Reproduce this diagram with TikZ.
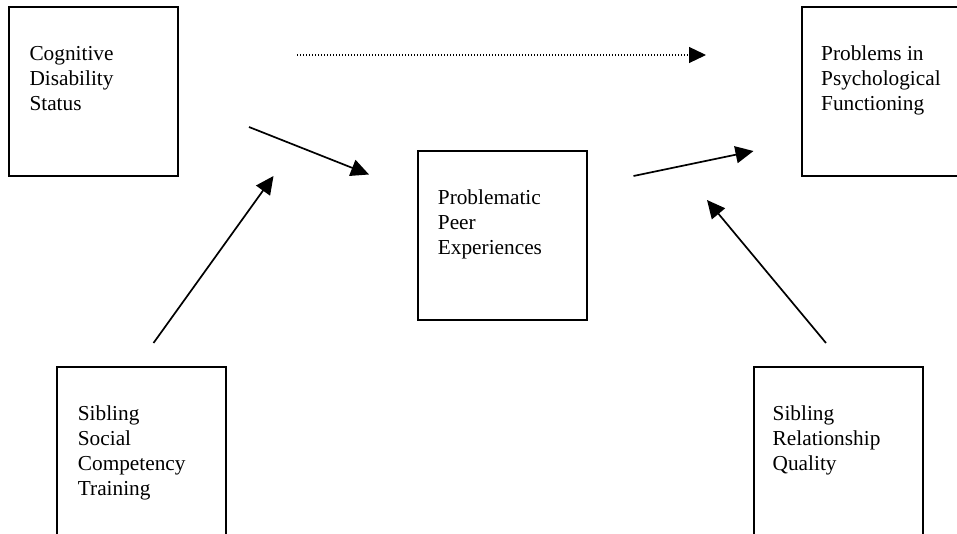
\documentclass[tikz,border=0pt]{standalone}
\usepackage{fontspec}
\setmainfont{Liberation Serif}
\usetikzlibrary{arrows.meta,calc}
\begin{document}
\begin{tikzpicture}[x=1pt,y=-1pt,
  boxnode/.style={draw, line width=2pt, minimum width=169pt, minimum height=169pt, inner sep=0pt},
  labeltext/.style={anchor=base west, inner sep=0pt, font=\fontsize{21.3}{25}\selectfont},
  conn/.style={line width=1.7pt, -{Triangle[length=18pt,width=17pt]}},
  dotconn/.style={line width=1.2pt, dash pattern=on 1.2pt off 1.8pt, -{Triangle[length=17pt,width=16pt]}}]
\useasboundingbox (0,0) rectangle (957,534);
\clip (0,0) rectangle (957,534);
\fill[white] (0,0) rectangle (957,534);
% boxes
\node[boxnode] (cog) at (93.8,91.2) {};
\node[boxnode] (prob) at (886.5,91.2) {};
\node[boxnode] (peer) at (502.2,235.5) {};
\node[boxnode] (sst) at (141.7,451.7) {};
\node[boxnode] (srq) at (838,451.7) {};
% texts
\node[labeltext] (cogt) at ($(cog.north west)+(21,55)$) {\parbox[t]{150pt}{\raggedright Cognitive\\Disability\\Status}};
\node[labeltext] (probt) at ($(prob.north west)+(20,55)$) {\parbox[t]{150pt}{\raggedright Problems in\\Psychological\\Functioning}};
\node[labeltext] (peert) at ($(peer.north west)+(21,55)$) {\parbox[t]{150pt}{\raggedright Problematic\\Peer\\Experiences}};
\node[labeltext] (sstt) at ($(sst.north west)+(21.5,54.5)$) {\parbox[t]{150pt}{\raggedright Sibling\\Social\\Competency\\Training}};
\node[labeltext] (srqt) at ($(srq.north west)+(20,54.5)$) {\parbox[t]{150pt}{\raggedright Sibling\\Relationship\\Quality}};
% connector end points
\coordinate (d1) at (297,55);
\coordinate (d2) at (706,55);
\coordinate (a1) at (249,127);
\coordinate (a2) at (369,174.5);
\coordinate (b1) at (633.5,176);
\coordinate (b2) at (753.5,151);
\coordinate (c1) at (153.5,343);
\coordinate (c2) at (273.5,176);
\coordinate (e1) at (826,343);
\coordinate (e2) at (707,200);
% connectors
\draw[dotconn] (d1) -- (d2);
\draw[conn] (a1) -- (a2);
\draw[conn] (b1) -- (b2);
\draw[conn] (c1) -- (c2);
\draw[conn] (e1) -- (e2);
\end{tikzpicture}
\end{document}
